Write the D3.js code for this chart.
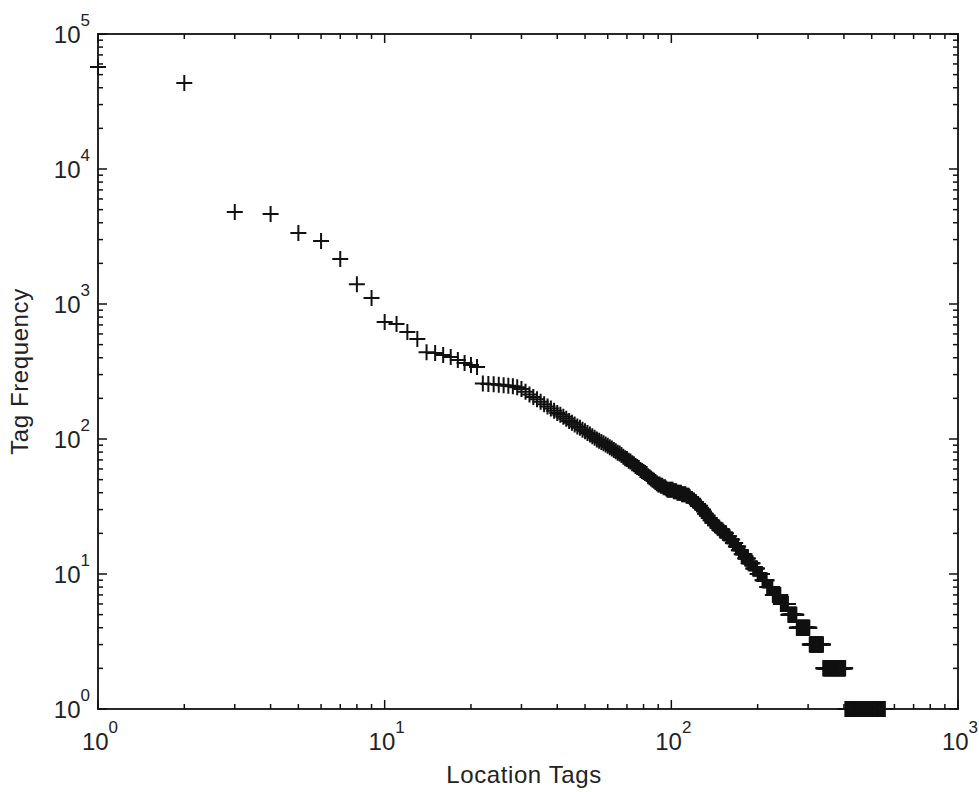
<!DOCTYPE html>
<html>
<head>
<meta charset="utf-8">
<script src="https://cdn.jsdelivr.net/npm/d3@7"></script>
<style>
  body { margin: 0; background: #fff; }
  svg { display: block; }
</style>
</head>
<body>
<div id="chart"></div>
<script>
// rank-frequency of location tags
// ranks 1..96, one value each
const headFreq = [
  57000, 43300, 4800, 4640, 3350, 2930, 2150, 1400, 1110, 735,
  710, 620, 550, 440, 433, 419, 405, 385, 365, 353,
  341, 258, 256, 254, 252, 250, 248, 246, 242, 235,
  224, 214, 205, 197, 189, 181, 174, 168, 162, 156,
  151, 146, 141, 136, 132, 128, 124, 121, 117, 114,
  111, 108, 105, 102, 99, 97, 95, 93, 91, 89,
  87, 85, 83, 81, 79, 78, 76, 74, 72, 71,
  69, 68, 66, 65, 63, 62, 61, 59, 58, 57,
  56, 55, 53, 52, 51, 50, 49, 48, 47, 46,
  46, 45, 45, 44, 44, 43
];
// from rank 97 on, tied frequencies: value and how many ranks share it
const tailFreq  = [42, 41, 40, 39, 38, 37, 36, 35, 34, 33, 32, 31, 30, 29, 28, 27, 26, 25, 24, 23, 22,
                   21, 20, 19, 18, 17, 16, 15, 14, 13, 12, 11, 10, 9, 8, 7, 6, 5, 4, 3, 2, 1];
const tailCount = [5, 3, 4, 4, 3, 1, 2, 2, 2, 2, 2, 1, 2, 1, 2, 2, 2, 2, 3, 3, 3,
                   4, 4, 4, 4, 4, 4, 4, 5, 5, 7, 7, 8, 8, 10, 15, 15, 18, 30, 35, 66, 151];

const xMajor = [1, 10, 100, 1000];
const xExp = ['0', '1', '2', '3'];
const yMajor = [1, 10, 100, 1000, 10000, 100000];
const yExp = ['0', '1', '2', '3', '4', '5'];

const width = 979, height = 792;
const plotLeft = 98, plotRight = 958, plotTop = 34, plotBottom = 709;
const font = '"Liberation Sans", Arial, Helvetica, sans-serif';
const ink = '#111';

const points = headFreq.map((f, i) => ({ rank: i + 1, freq: f }));
let r = headFreq.length + 1;
tailFreq.forEach((f, i) => {
  for (let k = 0; k < tailCount[i]; k++) points.push({ rank: r++, freq: f });
});

const x = d3.scaleLog().domain([1, 1000]).range([plotLeft, plotRight]);
const y = d3.scaleLog().domain([1, 100000]).range([plotBottom, plotTop]);

const svg = d3.select('#chart').append('svg')
  .attr('width', width).attr('height', height)
  .attr('viewBox', `0 0 ${width} ${height}`);

svg.append('rect').attr('width', width).attr('height', height).attr('fill', '#fff');

// minor + major ticks, all four sides, pointing inward
function logTicks(domain) {
  const out = [];
  for (let d = domain[0]; d < domain[1]; d *= 10) {
    for (let m = 1; m < 10; m++) out.push({ v: d * m, major: m === 1 });
  }
  out.push({ v: domain[1], major: true });
  return out;
}
const majorLen = 9, minorLen = 5;
const ticks = svg.append('g').attr('stroke', ink).attr('stroke-width', 1.5);

logTicks(x.domain()).forEach(t => {
  const len = t.major ? majorLen : minorLen;
  const px = x(t.v);
  ticks.append('line').attr('x1', px).attr('x2', px).attr('y1', plotBottom).attr('y2', plotBottom - len);
  ticks.append('line').attr('x1', px).attr('x2', px).attr('y1', plotTop).attr('y2', plotTop + len);
});
logTicks(y.domain()).forEach(t => {
  const len = t.major ? majorLen : minorLen;
  const py = y(t.v);
  ticks.append('line').attr('y1', py).attr('y2', py).attr('x1', plotLeft).attr('x2', plotLeft + len);
  ticks.append('line').attr('y1', py).attr('y2', py).attr('x1', plotRight).attr('x2', plotRight - len);
});

// frame
svg.append('rect')
  .attr('x', plotLeft).attr('y', plotTop)
  .attr('width', plotRight - plotLeft).attr('height', plotBottom - plotTop)
  .attr('fill', 'none').attr('stroke', ink).attr('stroke-width', 1.8);

// tick labels as 10 with superscript exponent
const labels = svg.append('g')
  .attr('font-family', font).attr('fill', '#222');

xMajor.forEach((v, i) => {
  const t = labels.append('text')
    .attr('x', x(v) + 2).attr('y', 750)
    .attr('text-anchor', 'middle')
    .attr('font-size', 24);
  t.append('tspan').text('10');
  t.append('tspan').attr('font-size', 17).attr('dy', -17).text(xExp[i]);
});

yMajor.forEach((v, i) => {
  const t = labels.append('text')
    .attr('x', plotLeft - 8).attr('y', y(v) + 9)
    .attr('text-anchor', 'end')
    .attr('font-size', 24);
  t.append('tspan').text('10');
  t.append('tspan').attr('font-size', 17).attr('dy', -17).text(yExp[i]);
});

// axis titles
svg.append('text')
  .attr('x', 524).attr('y', 783)
  .attr('text-anchor', 'middle')
  .attr('font-family', font).attr('font-size', 24)
  .attr('letter-spacing', 0.6).attr('fill', '#222')
  .text('Location Tags');

svg.append('text')
  .attr('transform', `translate(28, ${(plotTop + plotBottom) / 2}) rotate(-90)`)
  .attr('text-anchor', 'middle')
  .attr('font-family', font).attr('font-size', 24)
  .attr('letter-spacing', 0.6).attr('fill', '#222')
  .text('Tag Frequency');

// plus markers, not clipped to the axes
const arm = 8;
const marks = svg.append('g').attr('stroke', ink).attr('stroke-width', 2).attr('fill', 'none');
marks.selectAll('path')
  .data(points)
  .join('path')
  .attr('d', d => {
    const cx = x(d.rank), cy = y(d.freq);
    return `M${cx - arm},${cy}H${cx + arm}M${cx},${cy - arm}V${cy + arm}`;
  });
</script>
</body>
</html>
